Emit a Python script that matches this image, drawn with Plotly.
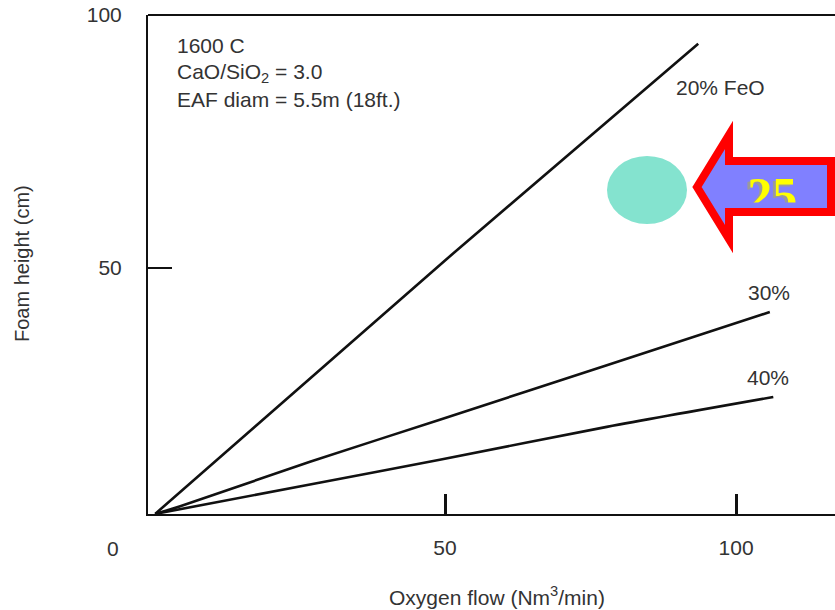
import plotly.graph_objects as go

# ---------------- data ----------------
feo20_x = [0.2, 50.0, 93.5]
feo20_y = [1.4, 51.5, 94.3]

feo30_x = [0.2, 4.5, 26.8, 49.1, 77.8, 105.8]
feo30_y = [1.4, 2.9, 11.7, 20.0, 30.8, 41.3]

feo40_x = [0.2, 26.8, 49.1, 77.8, 106.4]
feo40_y = [1.4, 7.2, 12.1, 18.6, 24.5]

x_tick_vals = [50, 100]
x_tick_text = ["50", "100"]
y_tick_vals = [50, 100]
y_tick_text = ["50", "100"]

curve_labels = ["20% FeO", "30%", "40%"]
conditions = ["1600 C", "CaO/SiO<sub>2</sub> = 3.0", "EAF diam = 5.5m (18ft.)"]
badge_text = "25"
badge_pos = (106.2, 63.6)

# ---------------- layout geometry (pixels) ----------------
W, H = 835, 610
L, R, T, B = 148, 835, 15, 514


def px(x):
    return (x - L) / (R - L)


def py(y):
    return (B - y) / (B - T)


FONT = "Liberation Sans, Arial, sans-serif"
TXT = "#333333"

fig = go.Figure()

for xs, ys in [(feo20_x, feo20_y), (feo30_x, feo30_y), (feo40_x, feo40_y)]:
    fig.add_trace(go.Scatter(x=xs, y=ys, mode="lines",
                             line=dict(color="#111111", width=2.6, shape="spline", smoothing=0.8),
                             hoverinfo="skip", showlegend=False))

# "25" text: shadow + yellow, drawn as trace so it can be partially covered
fig.add_trace(go.Scatter(x=[badge_pos[0] - 0.5], y=[badge_pos[1] - 0.5], mode="text",
                         text=[badge_text], textposition="middle center",
                         textfont=dict(family="Liberation Serif, serif", size=50, color="#9a9a9a", weight="bold"),
                         hoverinfo="skip", showlegend=False))
fig.add_trace(go.Scatter(x=[badge_pos[0]], y=[badge_pos[1]], mode="text",
                         text=[badge_text], textposition="middle center",
                         textfont=dict(family="Liberation Serif, serif", size=50, color="#FFFF00", weight="bold"),
                         hoverinfo="skip", showlegend=False))

shapes = []
# top border
shapes.append(dict(type="line", xref="paper", yref="paper", x0=0, x1=1, y0=1, y1=1,
                   line=dict(color="#111111", width=2), layer="above"))
# teal ellipse
shapes.append(dict(type="circle", xref="paper", yref="paper",
                   x0=px(607), x1=px(687), y0=py(224), y1=py(156),
                   fillcolor="#84E3CF", line=dict(width=0), layer="below"))
# block arrow
pts = [(697, 187), (729, 135), (729, 161), (831, 161), (831, 212), (729, 212), (729, 239)]
path = "M " + " L ".join(f"{px(a):.5f},{py(b):.5f}" for a, b in pts) + " Z"
shapes.append(dict(type="path", xref="paper", yref="paper", path=path,
                   fillcolor="#8080FF", line=dict(color="#FF0000", width=8), layer="below"))
# clip the lower part of the "25"
shapes.append(dict(type="rect", xref="paper", yref="paper",
                   x0=px(738), x1=px(808), y0=py(208), y1=py(202.5),
                   fillcolor="#8080FF", line=dict(width=0), layer="above"))
shapes.append(dict(type="rect", xref="paper", yref="paper",
                   x0=px(735), x1=px(831), y0=py(216), y1=py(208),
                   fillcolor="#FF0000", line=dict(width=0), layer="above"))

annotations = []


def ann(text, x, y, xanchor="left", size=21, angle=0):
    annotations.append(dict(text=text, x=px(x), y=py(y), xref="paper", yref="paper",
                            xanchor=xanchor, yanchor="middle", showarrow=False,
                            textangle=angle, font=dict(family=FONT, size=size, color=TXT)))


for i, t in enumerate(conditions):
    ann(t, 175, 46 + 27 * i)
ann(curve_labels[0], 674, 87)
ann(curve_labels[1], 746, 292)
ann(curve_labels[2], 745, 377)
ann("0", 113, 548, xanchor="center")
ann("Oxygen flow (Nm<sup>3</sup>/min)", 497, 596, xanchor="center")
ann("Foam height (cm)", 22, 263, xanchor="center", size=20, angle=-90)

fig.update_layout(
    width=W, height=H,
    margin=dict(l=L, r=W - R, t=T, b=H - B, pad=0),
    paper_bgcolor="white", plot_bgcolor="white",
    shapes=shapes, annotations=annotations,
    xaxis=dict(range=[-1.03, 117.0], showgrid=False, zeroline=False,
               showline=True, linecolor="#111111", linewidth=2,
               ticks="inside", ticklen=20, tickwidth=2.5, tickcolor="#111111",
               tickvals=x_tick_vals, ticktext=x_tick_text, ticklabelstandoff=14,
               tickfont=dict(family=FONT, size=21, color=TXT)),
    yaxis=dict(range=[1.38, 100], showgrid=False, zeroline=False,
               showline=True, linecolor="#111111", linewidth=2,
               ticks="inside", ticklen=24, tickwidth=1.5, tickcolor="#111111",
               tickvals=y_tick_vals, ticktext=y_tick_text, ticklabelstandoff=20,
               tickfont=dict(family=FONT, size=21, color=TXT)),
)

fig.write_html("out.html")
